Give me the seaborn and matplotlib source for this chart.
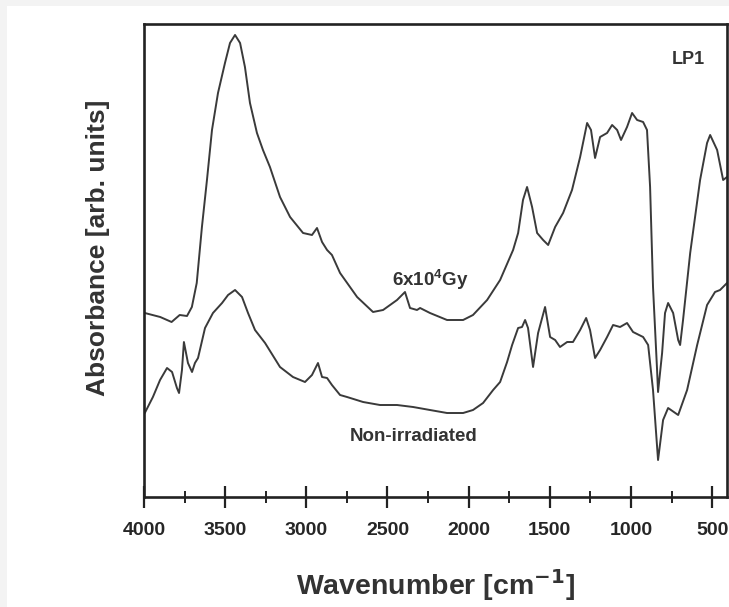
import matplotlib
matplotlib.use("Agg")
import matplotlib.pyplot as plt
import seaborn as sns
import pandas as pd
from matplotlib.patches import Rectangle
from matplotlib.ticker import MultipleLocator

# FTIR spectra of LP1 (wavenumber in cm-1, absorbance arb.)
wn_irr = [3995, 3900, 3830, 3780, 3735, 3705, 3675, 3643, 3612, 3581, 3544, 3501,
          3470, 3439, 3408, 3378, 3347, 3304, 3267, 3224, 3162, 3100, 3020, 2965,
          2934, 2903, 2872, 2842, 2792, 2687, 2589, 2527, 2441, 2392, 2361, 2318,
          2299, 2238, 2133, 2034, 1973, 1886, 1806, 1726, 1695, 1665, 1640, 1609,
          1578, 1541, 1510, 1467, 1418, 1363, 1313, 1270, 1246, 1221, 1190, 1147,
          1116, 1085, 1061, 1024, 993, 962, 925, 901, 882, 864, 839, 833, 808, 790,
          771, 740, 709, 697, 679, 635, 574, 531, 512, 469, 432, 408]
abs_irr = [1.84, 1.80, 1.75, 1.82, 1.81, 1.90, 2.14, 2.70, 3.17, 3.67, 4.04, 4.34,
           4.54, 4.62, 4.54, 4.30, 3.94, 3.64, 3.47, 3.30, 3.00, 2.80, 2.64, 2.62,
           2.69, 2.55, 2.47, 2.42, 2.24, 2.00, 1.85, 1.87, 1.97, 2.05, 1.89, 1.87,
           1.89, 1.84, 1.77, 1.77, 1.82, 1.97, 2.17, 2.47, 2.64, 2.97, 3.10, 2.90,
           2.64, 2.57, 2.52, 2.70, 2.84, 3.07, 3.40, 3.74, 3.67, 3.39, 3.60, 3.64,
           3.72, 3.67, 3.57, 3.70, 3.84, 3.77, 3.75, 3.67, 3.10, 2.10, 1.27, 1.05,
           1.44, 1.84, 1.94, 1.84, 1.57, 1.52, 1.77, 2.44, 3.17, 3.54, 3.62, 3.47,
           3.17, 3.20]

wn_non = [3995, 3945, 3901, 3858, 3827, 3797, 3784, 3766, 3754, 3729, 3704, 3686,
          3667, 3624, 3575, 3519, 3482, 3439, 3396, 3359, 3316, 3254, 3162, 3082,
          3008, 2965, 2928, 2903, 2872, 2842, 2792, 2749, 2650, 2546, 2441, 2342,
          2238, 2133, 2034, 1973, 1911, 1849, 1806, 1763, 1732, 1695, 1671, 1652,
          1634, 1603, 1572, 1529, 1498, 1467, 1437, 1393, 1357, 1313, 1276, 1252,
          1221, 1190, 1147, 1110, 1067, 1024, 987, 925, 894, 864, 833, 802, 771,
          709, 654, 592, 531, 482, 451, 408]
abs_non = [0.84, 1.00, 1.17, 1.29, 1.25, 1.09, 1.04, 1.27, 1.55, 1.34, 1.25, 1.34,
           1.39, 1.69, 1.84, 1.94, 2.02, 2.07, 2.00, 1.84, 1.67, 1.54, 1.30, 1.20,
           1.15, 1.22, 1.34, 1.20, 1.19, 1.12, 1.02, 1.00, 0.95, 0.92, 0.92, 0.90,
           0.87, 0.84, 0.84, 0.87, 0.94, 1.07, 1.15, 1.35, 1.52, 1.69, 1.70, 1.77,
           1.69, 1.30, 1.64, 1.90, 1.60, 1.57, 1.50, 1.55, 1.55, 1.67, 1.79, 1.67,
           1.39, 1.47, 1.60, 1.72, 1.70, 1.74, 1.65, 1.60, 1.52, 1.07, 0.37, 0.77,
           0.89, 0.82, 1.07, 1.52, 1.92, 2.05, 2.07, 2.14]

df = pd.concat([
    pd.DataFrame({"wn": wn_irr, "A": abs_irr, "sample": "6x10^4 Gy"}),
    pd.DataFrame({"wn": wn_non, "A": abs_non, "sample": "Non-irradiated"}),
])

sns.set_theme(style="white")
plt.rcParams["font.family"] = ["Liberation Sans", "DejaVu Sans"]
plt.rcParams["font.weight"] = "bold"
plt.rcParams["mathtext.fontset"] = "custom"
plt.rcParams["mathtext.rm"] = "Liberation Sans:bold"
plt.rcParams["mathtext.bf"] = "Liberation Sans:bold"

fig = plt.figure(figsize=(7.29, 6.07), dpi=100, facecolor="#f3f3f3")
# white panel inside the light grey frame
fig.patches.append(Rectangle((7 / 729, 0), 1, 1 - 6 / 607, transform=fig.transFigure,
                             facecolor="white", edgecolor="none", zorder=-10))
ax = fig.add_axes([0.1975, 0.1812, 0.7998, 0.7793])
ax.set_facecolor("white")

sns.lineplot(data=df, x="wn", y="A", units="sample", estimator=None, color="#3a3a3a",
             linewidth=1.4, ax=ax, legend=False)

ax.set_xlim(4000, 408)
ax.set_ylim(0, 4.73)
ax.xaxis.set_major_locator(MultipleLocator(500))
ax.xaxis.set_minor_locator(MultipleLocator(250))
ax.tick_params(axis="x", which="major", direction="inout", length=16, width=1.6,
               color="#222222", labelsize=14, pad=10, bottom=True)
ax.tick_params(axis="x", which="minor", direction="inout", length=9, width=1.4,
               color="#222222", bottom=True)
ax.set_yticks([])
for lbl in ax.get_xticklabels():
    lbl.set_fontweight("bold")
for s in ax.spines.values():
    s.set_linewidth(1.9)
    s.set_color("#222222")

ax.set_xlabel(r"Wavenumber [cm$^{\mathsf{-1}}$]", fontsize=20.5, fontweight="bold",
              color="#333333", labelpad=20)
ax.set_ylabel("Absorbance [arb. units]", fontsize=19, fontweight="bold",
              color="#333333")
ax.yaxis.set_label_coords(-0.058, 0.527)

ax.text(648, 4.37, "LP1", fontsize=13, fontweight="bold", ha="center", va="center",
        color="#333333")
ax.text(2238, 2.17, r"6x10$^{4}$Gy", fontsize=13.5, fontweight="bold", ha="center",
        va="center", color="#333333")
ax.text(2336, 0.61, "Non-irradiated", fontsize=13.5, fontweight="bold", ha="center",
        va="center", color="#333333")

fig.savefig("out.png", dpi=100, facecolor=fig.get_facecolor())
